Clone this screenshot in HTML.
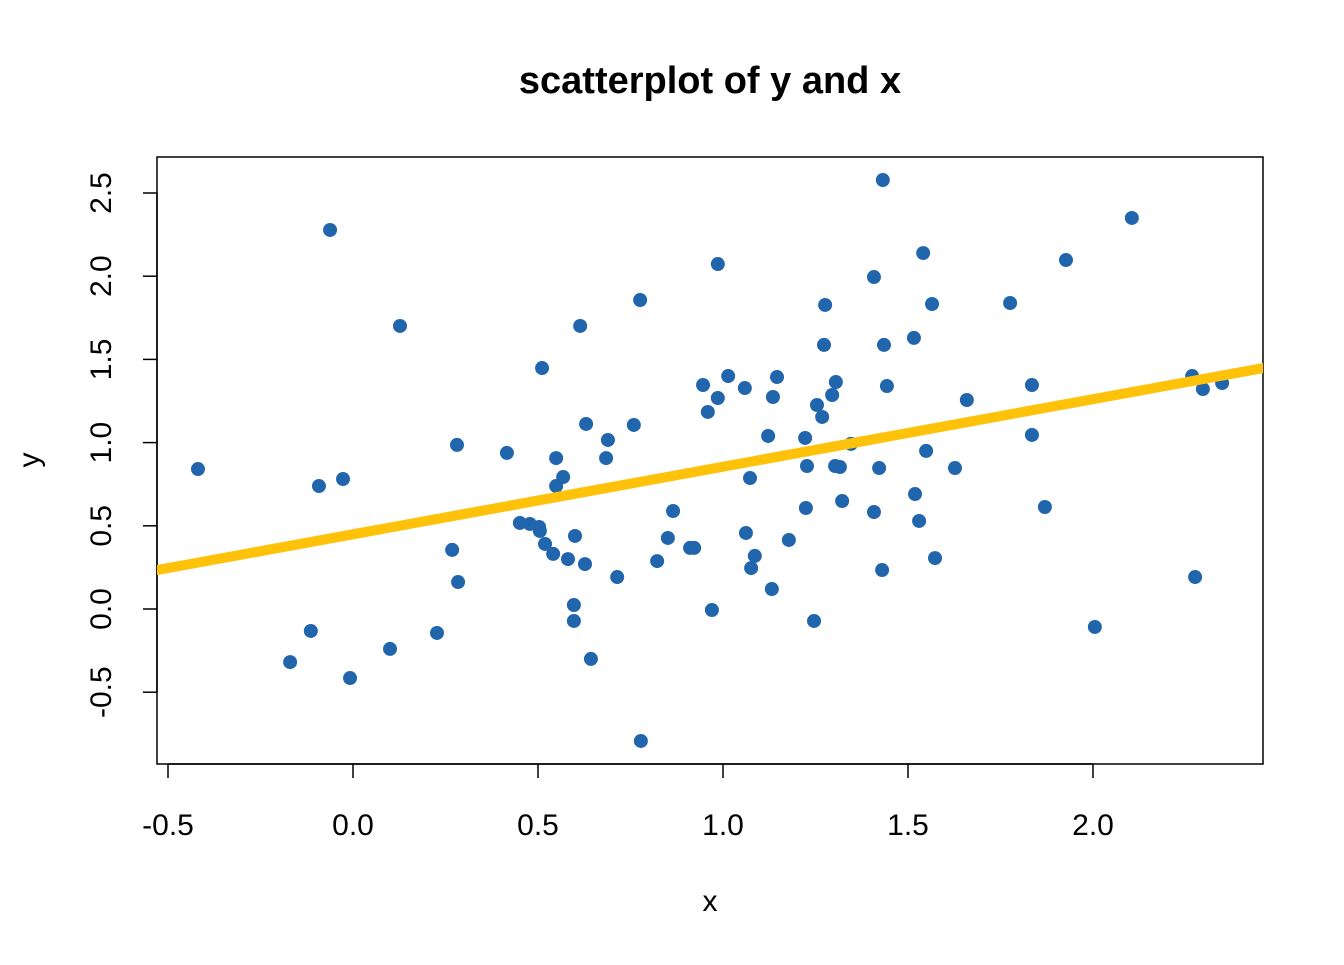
<!DOCTYPE html>
<html><head><meta charset="utf-8"><style>
body{margin:0;background:#fff}
svg text{font-family:"Liberation Sans",Arial,sans-serif;fill:#000}
</style></head><body>
<svg id="chart" width="1344" height="960">
<defs><clipPath id="clip"><rect x="157" y="157" width="1106" height="607"/></clipPath></defs>
<text x="710" y="93" text-anchor="middle" font-size="38" font-weight="bold">scatterplot of y and x</text>
<rect x="157" y="157" width="1106" height="607" fill="none" stroke="#000" stroke-width="1.5"/>
<g id="xaxis"></g>
<g id="yaxis"></g>
<text x="710" y="911" text-anchor="middle" font-size="30">x</text>
<text transform="translate(39,460) rotate(-90)" text-anchor="middle" font-size="30">y</text>
<g id="points" clip-path="url(#clip)"></g>
<g id="fit" clip-path="url(#clip)"></g>
</svg>
<script>
const xTicks=[-0.5,0,0.5,1,1.5,2];
const xTickLabels=["-0.5","0.0","0.5","1.0","1.5","2.0"];
const yTicks=[-0.5,0,0.5,1,1.5,2,2.5];
const yTickLabels=["-0.5","0.0","0.5","1.0","1.5","2.0","2.5"];
const xVals=[-0.419,-0.170,-0.114,-0.092,-0.062,-0.027,-0.008,0.100,0.127,0.227,0.268,0.281,0.284,0.416,0.451,0.478,0.503,0.505,0.511,0.519,0.541,0.549,0.549,0.568,0.581,0.597,0.597,0.600,0.614,0.627,0.630,0.643,0.684,0.689,0.714,0.759,0.776,0.778,0.822,0.851,0.865,0.911,0.922,0.946,0.959,0.970,0.986,0.986,1.014,1.059,1.062,1.073,1.076,1.086,1.122,1.132,1.135,1.146,1.178,1.222,1.224,1.227,1.246,1.254,1.268,1.273,1.276,1.295,1.303,1.305,1.316,1.322,1.346,1.408,1.408,1.422,1.430,1.432,1.435,1.443,1.516,1.519,1.530,1.541,1.549,1.565,1.573,1.627,1.659,1.776,1.835,1.835,1.870,1.927,2.005,2.105,2.268,2.276,2.297,2.349];
const yVals=[0.841,-0.319,-0.132,0.739,2.278,0.781,-0.415,-0.240,1.701,-0.144,0.355,0.986,0.162,0.938,0.517,0.511,0.493,0.469,1.448,0.391,0.331,0.907,0.739,0.793,0.300,0.024,-0.072,0.439,1.701,0.270,1.112,-0.300,0.907,1.016,0.192,1.106,1.857,-0.793,0.288,0.427,0.589,0.367,0.367,1.346,1.184,-0.006,2.073,1.268,1.400,1.328,0.457,0.787,0.246,0.319,1.040,0.120,1.274,1.394,0.415,1.028,0.607,0.859,-0.072,1.226,1.154,1.587,1.827,1.286,0.859,1.364,0.853,0.649,0.992,1.995,0.583,0.847,0.234,2.578,1.587,1.340,1.629,0.691,0.529,2.139,0.950,1.833,0.306,0.847,1.256,1.839,1.346,1.046,0.613,2.097,-0.108,2.350,1.400,0.192,1.322,1.358];
const fitCoef=[0.449,0.406];
const NS='http://www.w3.org/2000/svg';
const X=v=>353+370*v, Y=v=>609-166.4*v;
function mk(t,a,p){const e=document.createElementNS(NS,t);for(const k in a)e.setAttribute(k,a[k]);p.appendChild(e);return e;}
const xa=document.getElementById('xaxis'),ya=document.getElementById('yaxis');
mk('line',{x1:X(xTicks[0]),x2:X(xTicks[xTicks.length-1]),y1:764,y2:764,stroke:'#000','stroke-width':1.5},xa);
xTicks.forEach((t,i)=>{const l=mk('line',{x1:X(t),x2:X(t),y1:764,y2:778,stroke:'#000','stroke-width':1.5},xa);

const tx=mk('text',{x:X(t),y:835,'text-anchor':'middle','font-size':30},xa);tx.textContent=xTickLabels[i];
});
mk('line',{x1:157,x2:157,y1:Y(yTicks[0]),y2:Y(yTicks[yTicks.length-1]),stroke:'#000','stroke-width':1.5},ya);
yTicks.forEach((t,i)=>{const l=mk('line',{x1:143,x2:157,y1:Y(t),y2:Y(t),stroke:'#000','stroke-width':1.5},ya);

const tx=mk('text',{transform:`translate(111,${Y(t)}) rotate(-90)`,'text-anchor':'middle','font-size':30},ya);tx.textContent=yTickLabels[i];
});
const pg=document.getElementById('points');
xVals.forEach((v,i)=>{const c=mk('circle',{cx:X(v),cy:Y(yVals[i]),r:7,fill:'#2166ac'},pg);
});
const x0=-0.6,x1=2.6;
const fl=mk('line',{x1:X(x0),y1:Y(fitCoef[0]+fitCoef[1]*x0),x2:X(x1),y2:Y(fitCoef[0]+fitCoef[1]*x1),stroke:'#ffc20a','stroke-width':10},document.getElementById('fit'));

</script>
</body></html>
